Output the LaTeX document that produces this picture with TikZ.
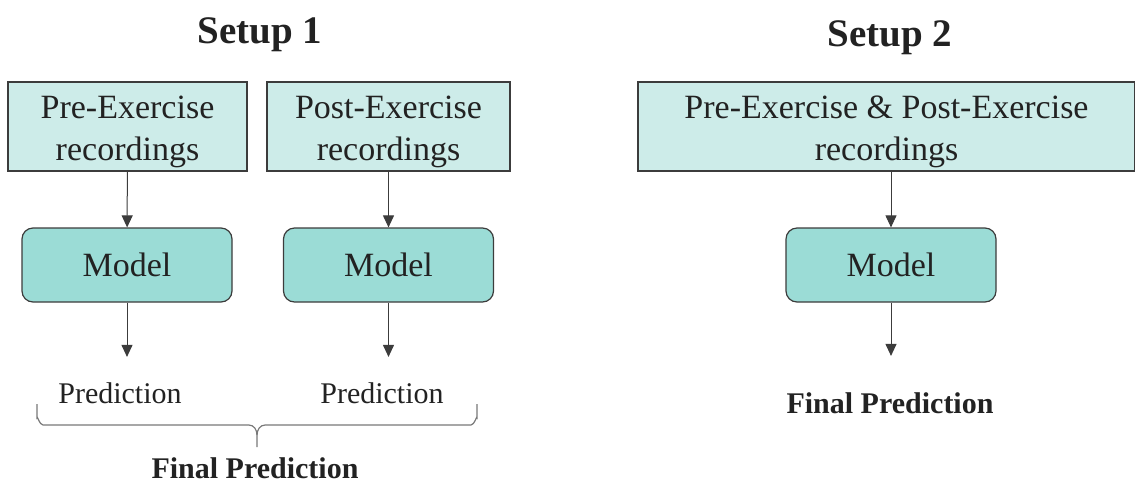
\documentclass[tikz,border=0pt]{standalone}
\usepackage{fontspec}
\setmainfont{Liberation Serif}
\usetikzlibrary{arrows.meta}

\definecolor{recfill}{RGB}{205,236,233}
\definecolor{modfill}{RGB}{155,220,214}
\definecolor{linegray}{RGB}{60,60,60}
\definecolor{textgray}{RGB}{34,34,34}
\definecolor{bracegray}{RGB}{120,120,120}

\begin{document}
\begin{tikzpicture}[x=1pt, y=-1pt,
    recbox/.style={draw=linegray, fill=recfill, line width=1.2pt, align=center,
      inner sep=0pt, minimum height=89pt, text height=75pt, text=textgray,
      font=\fontsize{34}{42}\selectfont},
    modbox/.style={draw=linegray, fill=modfill, line width=1.2pt, rounded corners=11pt,
      minimum width=210pt, minimum height=74pt, text=textgray,
      font=\fontsize{34}{42}\selectfont},
    arr/.style={draw=linegray, line width=1pt, -{Triangle[length=12pt, width=11pt]}},
    title/.style={anchor=base, text=textgray, font=\bfseries\fontsize{39}{44}\selectfont},
    predtext/.style={text=textgray, font=\fontsize{30}{36}\selectfont},
    finaltext/.style={text=textgray, font=\bfseries\fontsize{30}{36}\selectfont}]
    \useasboundingbox (0,0) rectangle (1135,483);

    % Setup 1
    \node[title] (setupA) at (260,43) {Setup 1};
    \node[recbox, minimum width=239pt] (pre) at (127.5,126.5) {Pre-Exercise\\recordings};
    \node[recbox, minimum width=243pt] (post) at (388.5,126.5) {Post-Exercise\\recordings};
    \node[modbox] (modelA) at (127,265) {Model};
    \node[modbox] (modelB) at (388.5,265) {Model};
    \node[predtext] (predA) at (120,393) {Prediction};
    \node[predtext] (predB) at (382,393) {Prediction};
    \draw (pre) edge[arr] (modelA);
    \draw (post) edge[arr] (modelB);
    \draw (modelA.south) edge[arr, shorten >=22pt] (modelA.south |- predA.north);
    \draw (modelB.south) edge[arr, shorten >=22pt] (modelB.south |- predB.north);
    \draw[bracegray, line width=1.2pt] (37,404) -- (37,418) to[out=90,in=180] (43,425)
      -- (249,425) to[out=0,in=90] (257,435) -- (257,447);
    \draw[bracegray, line width=1.2pt] (477,404) -- (477,418) to[out=90,in=0] (471,425)
      -- (265,425) to[out=180,in=90] (257,435);
    \node[finaltext] (finalA) at (255,468) {Final Prediction};

    % Setup 2
    \node[title] (setupB) at (890,46) {Setup 2};
    \node[recbox, minimum width=497pt] (both) at (886.5,126.5) {Pre-Exercise \& Post-Exercise\\recordings};
    \node[modbox] (modelC) at (891,265) {Model};
    \node[finaltext] (finalB) at (890,403) {Final Prediction};
    \draw (both.south -| modelC.north) edge[arr] (modelC);
    \draw (modelC.south) edge[arr, shorten >=33pt] (modelC.south |- finalB.north);
\end{tikzpicture}
\end{document}
